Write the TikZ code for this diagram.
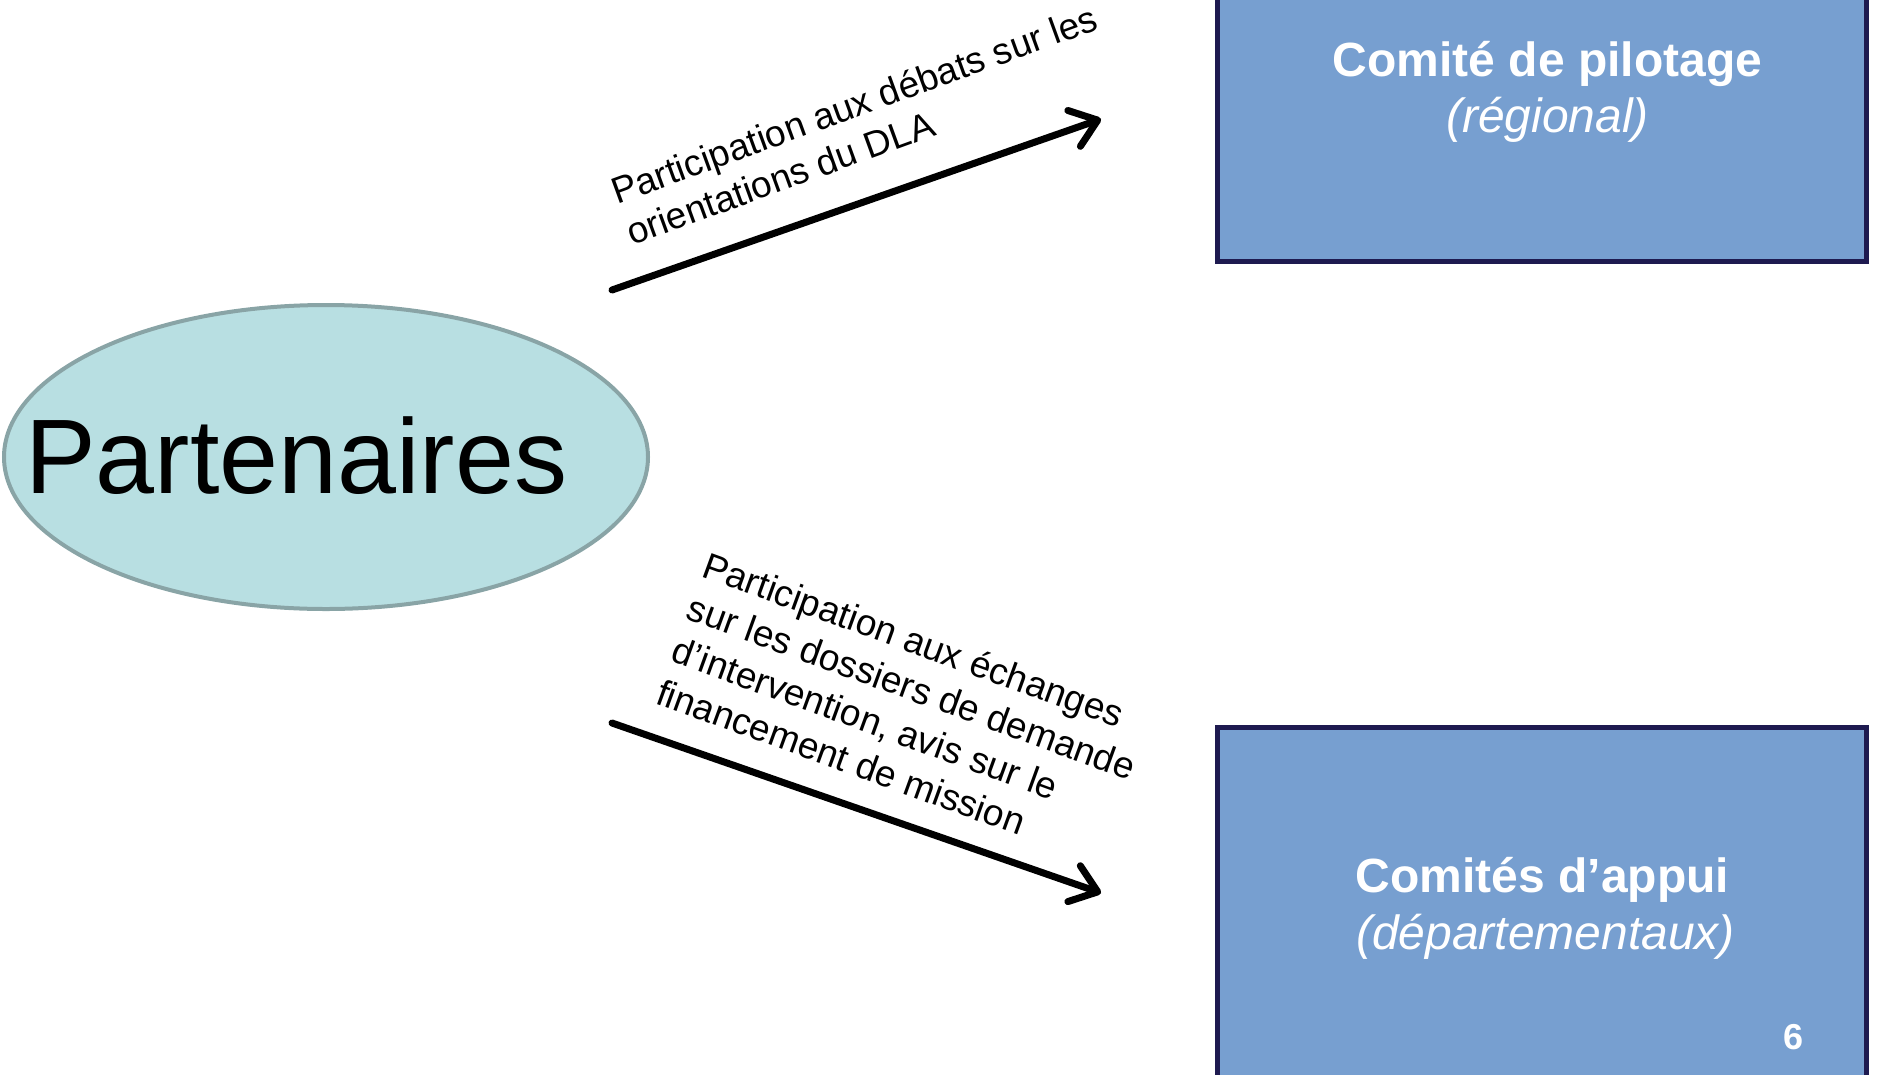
\documentclass[tikz,border=0pt]{standalone}
\usepackage{fontspec}
\setmainfont{Liberation Sans}
\usetikzlibrary{arrows.meta,shapes.geometric}
\definecolor{boxfill}{RGB}{119,159,208}
\definecolor{boxline}{RGB}{30,26,80}
\definecolor{ellfill}{RGB}{184,223,226}
\definecolor{ellline}{RGB}{137,164,166}
\begin{document}
\begin{tikzpicture}[x=1pt,y=-1pt,
 comite/.style={draw=boxline, line width=5pt, fill=boxfill, rectangle, inner sep=0pt},
 flow/.style={line width=7pt, line cap=round, -{Straight Barb[length=25pt,width=38pt,line cap=round,line join=round]}},
 lab/.style={font=\fontsize{37}{44}\selectfont, align=left, inner sep=0pt},
 boxtitle/.style={text=white, font=\fontsize{48}{56}\selectfont\bfseries, inner sep=0pt, anchor=base},
 boxsub/.style={text=white, font=\fontsize{48}{56}\selectfont\itshape, inner sep=0pt, anchor=base}]
\useasboundingbox (0,0) rectangle (1878,1074);
\begin{scope}
\clip (0,0) rectangle (1878,1074);
\node[comite, minimum width=649pt, minimum height=291pt] (pilot) at (1541.5,115.5) {};
\node[comite, minimum width=649pt, minimum height=383pt] (appui) at (1541.5,918.5) {};
\end{scope}
\node[boxtitle] (pilotT) at (1547.5,76) {Comité de pilotage};
\node[boxsub] (pilotS) at (1547.5,132) {(régional)};
\node[boxtitle] (appuiT) at (1542.5,892) {Comités d’appui};
\node[boxsub] (appuiS) at (1545.5,949) {(départementaux)};
\node[text=white, font=\fontsize{36}{40}\selectfont\bfseries, inner sep=0pt, anchor=base] (num) at (1793,1049) {6};
\node[ellipse, draw=ellline, line width=4pt, fill=ellfill, minimum width=644pt, minimum height=304pt, inner sep=0pt] (part) at (326,457) {};
\node[font=\fontsize{106}{120}\selectfont, anchor=base west, inner sep=0pt] (partT) at (25,493) {Partenaires};
\coordinate (a1s) at (612,290);
\coordinate (a1e) at (1101,119);
\coordinate (a2s) at (612,723);
\coordinate (a2e) at (1101,893);
\draw[flow] (a1s) -- (a1e);
\draw[flow] (a2s) -- (a2e);
\node[lab, rotate=20, anchor=base west] (lab1) at (632,246) {Participation aux débats sur les\\orientations du DLA};
\node[lab, font=\fontsize{37}{45}\selectfont, rotate=-20, anchor=base west] (lab2) at (654,703) {Participation aux échanges\\sur les dossiers de demande\\d’intervention, avis sur le\\financement de mission};
\end{tikzpicture}
\end{document}
